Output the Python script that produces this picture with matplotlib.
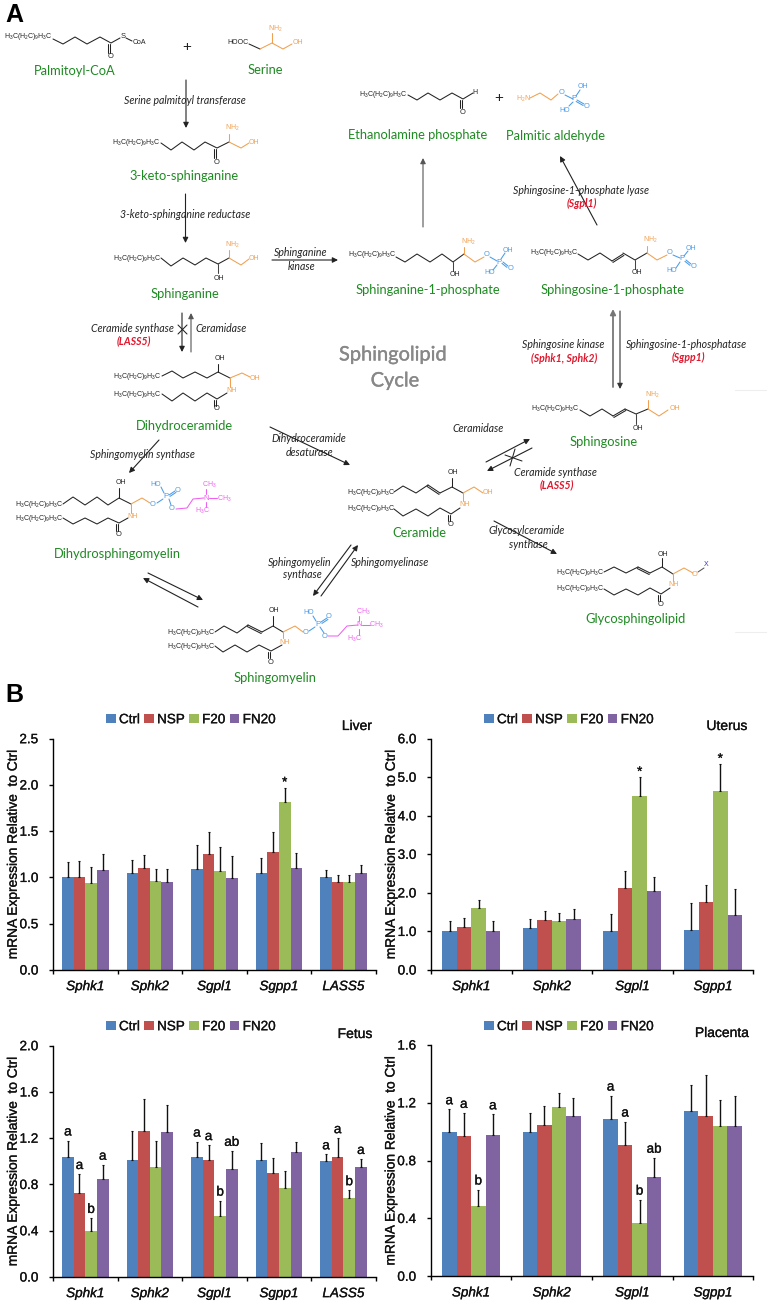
#!/usr/bin/env python3
"""Sphingolipid cycle diagram (A) and mRNA expression bar panels (B)."""

import matplotlib
matplotlib.use('Agg')
import matplotlib.pyplot as plt
import matplotlib.patheffects as pe
from matplotlib.text import Text
import numpy as np

plt.rcParams['font.family'] = ['Liberation Sans', 'DejaVu Sans']
plt.rcParams['mathtext.default'] = 'regular'

W, H = 767, 1304

# bar data: one row per gene, columns are Ctrl, NSP, F20, FN20
series = ['Ctrl', 'NSP', 'F20', 'FN20']
series_colors = ['#4F81BD', '#C0504D', '#9BBB59', '#8064A2']
genes_five = ['Sphk1', 'Sphk2', 'Sgpl1', 'Sgpp1', 'LASS5']
genes_four = ['Sphk1', 'Sphk2', 'Sgpl1', 'Sgpp1']

liver_vals = [[1.00, 1.01, 0.94, 1.08],
              [1.05, 1.10, 0.96, 0.95],
              [1.09, 1.25, 1.07, 0.99],
              [1.05, 1.27, 1.82, 1.10],
              [1.00, 0.95, 0.95, 1.05]]
liver_tops = [[1.17, 1.18, 1.11, 1.25],
              [1.19, 1.24, 1.09, 1.09],
              [1.35, 1.49, 1.33, 1.23],
              [1.21, 1.49, 1.97, 1.26],
              [1.08, 1.03, 1.03, 1.13]]
liver_marks = [(3, 2, '*')]

uterus_vals = [[1.00, 1.12, 1.62, 1.00],
               [1.09, 1.29, 1.27, 1.33],
               [1.00, 2.12, 4.52, 2.05],
               [1.03, 1.76, 4.64, 1.42]]
uterus_tops = [[1.27, 1.35, 1.82, 1.27],
               [1.32, 1.53, 1.48, 1.59],
               [1.45, 2.58, 5.00, 2.42],
               [1.73, 2.20, 5.34, 2.10]]
uterus_marks = [(2, 2, '*'), (3, 2, '*')]

fetus_vals = [[1.04, 0.73, 0.40, 0.85],
              [1.01, 1.26, 0.95, 1.25],
              [1.04, 1.01, 0.53, 0.93],
              [1.01, 0.90, 0.77, 1.08],
              [1.00, 1.04, 0.68, 0.95]]
fetus_tops = [[1.18, 0.89, 0.51, 0.97],
              [1.26, 1.54, 1.18, 1.49],
              [1.17, 1.14, 0.66, 1.09],
              [1.16, 1.03, 0.92, 1.17],
              [1.06, 1.20, 0.75, 1.02]]
fetus_marks = [(0, 0, 'a'), (0, 1, 'a'), (0, 2, 'b'), (0, 3, 'a'),
               (2, 0, 'a'), (2, 1, 'a'), (2, 2, 'b'), (2, 3, 'ab'),
               (4, 0, 'a'), (4, 1, 'a'), (4, 2, 'b'), (4, 3, 'a')]

placenta_vals = [[1.00, 0.97, 0.485, 0.98],
                 [1.00, 1.05, 1.17, 1.11],
                 [1.09, 0.91, 0.37, 0.69],
                 [1.14, 1.11, 1.04, 1.04]]
placenta_tops = [[1.155, 1.13, 0.60, 1.12],
                 [1.13, 1.18, 1.27, 1.23],
                 [1.25, 1.07, 0.53, 0.82],
                 [1.32, 1.39, 1.22, 1.25]]
placenta_marks = [(0, 0, 'a'), (0, 1, 'a'), (0, 2, 'b'), (0, 3, 'a'),
                  (2, 0, 'a'), (2, 1, 'a'), (2, 2, 'b'), (2, 3, 'ab')]

fig = plt.figure(figsize=(W / 100, H / 100), dpi=100, facecolor='white')

# whole-figure axes in pixel coordinates for the pathway drawing
dia = fig.add_axes([0, 0, 1, 1])
dia.set_xlim(0, W)
dia.set_ylim(H, 0)
dia.axis('off')

BLK = '#222222'
ORG = '#F0A050'
BLU = '#4A9BE8'
MAG = '#F060F0'
GRN = '#1E8A22'
RED = '#E0182D'
CHAIN = r'H$_3$C(H$_2$C)$_9$H$_3$C'
HEAVY = [pe.withStroke(linewidth=0.2, foreground='#111111')]


def chain(pts, c=BLK):
    xs, ys = zip(*pts)
    dia.plot(xs, ys, color=c, lw=0.75, solid_capstyle='round')


def dbl(p0, p1, c=BLK, gap=1.7):
    d = np.array(p1, float) - np.array(p0, float)
    n = np.array([-d[1], d[0]]) / np.hypot(*d) * gap
    chain([p0, p1], c)
    chain([tuple(np.array(p0) + n), tuple(np.array(p1) + n)], c)


def atom(x, y, s, c=BLK, size=5.0):
    dia.text(x, y, s, color=c, fontsize=size, ha='center', va='center')


def name(x, y, s):
    dia.text(x, y, s, color=GRN, fontsize=9.3, family='Lato', ha='center', va='center')


def enz(x, y, s, c=BLK, bold=False):
    dia.text(x, y, s, color=c, fontsize=7.6, family='Lato', style='italic',
             weight='bold' if bold else 'normal', ha='center', va='center')


def arrow(x0, y0, x1, y1, c=BLK, lw=0.8):
    dia.annotate('', xy=(x1, y1), xytext=(x0, y0),
                 arrowprops=dict(arrowstyle='-|>', color=c, lw=lw, mutation_scale=8,
                                 shrinkA=0, shrinkB=0))


def phosphate(px, py, labels):
    # P centre with its hydroxyl and oxygen neighbours
    atom(px, py, 'P', BLU, 5.6)
    for x, y, s in labels:
        atom(x, y, s, BLU, 5.0 if len(s) > 1 else 5.4)


dia.text(14, 15, 'A', fontsize=18, weight='bold', ha='center', va='center', color='black')
dia.text(14, 695, 'B', fontsize=18, weight='bold', ha='center', va='center', color='black')

# palmitoyl-CoA + serine
atom(28, 37, CHAIN)
chain([(53, 39), (63, 44), (75, 37), (87, 44), (100, 37), (111, 43), (120, 38)])
atom(123, 36, 'S', size=5.4)
chain([(126, 38), (132, 41)])
atom(139, 43, 'CoA')
dbl((110, 44), (110, 53))
atom(111, 57, 'O', size=5.4)
atom(187, 47, '+', size=11)
atom(238, 43, 'HOOC')
chain([(249, 44), (260, 49)])
chain([(260, 49), (272, 43), (283, 49), (292, 44)], ORG)
chain([(272, 43), (272, 33)], ORG)
atom(275, 29, r'NH$_2$', ORG)
atom(298, 43, 'OH', ORG)
name(75, 71, 'Palmitoyl-CoA')
name(265, 70, 'Serine')
arrow(186, 80, 186, 128)
enz(185, 101, 'Serine palmitoyl transferase')

# 3-keto-sphinganine
atom(136, 143, CHAIN)
chain([(161, 143), (171, 150), (182, 142), (194, 150), (205, 142), (217, 148), (229, 142)])
chain([(229, 142), (241, 148), (249, 143)], ORG)
chain([(229, 142), (229, 134)], ORG)
atom(232, 128, r'NH$_2$', ORG)
atom(254, 142, 'OH', ORG)
dbl((216, 149), (216, 158))
atom(217, 162, 'O', size=5.4)
name(184, 176, '3-keto-sphinganine')
arrow(185.5, 194, 185.5, 243)
enz(185, 215, '3-keto-sphinganine reductase')

# sphinganine
atom(137, 259, CHAIN)
chain([(161, 258), (171, 266), (183, 258), (195, 265), (206, 258), (218, 264), (229, 258)])
chain([(229, 258), (241, 265), (249, 259)], ORG)
chain([(229, 258), (229, 250)], ORG)
chain([(218, 264), (218, 273)], '#444444')
atom(219, 278, 'OH')
atom(232, 245, r'NH$_2$', ORG)
atom(254, 258, 'OH', ORG)
name(185, 294, 'Sphinganine')
arrow(272, 260, 338, 260)
enz(301, 253, 'Sphinganine')
enz(302, 266, 'kinase')
arrow(182, 313, 182, 352)
arrow(191, 352, 191, 313, c='#555555')
chain([(178, 325), (187, 334)])
chain([(187, 325), (178, 334)])
enz(132, 329, 'Ceramide synthase')
enz(134, 341, '(LASS5)', RED, True)
enz(221, 329, 'Ceramidase')

# aldehyde + phosphoethanolamine
atom(383, 94, CHAIN)
chain([(408, 95), (417, 100), (428, 93), (440, 100), (452, 93), (463, 99), (473, 93)])
atom(475, 92, 'H', size=5.0)
dbl((462, 100), (462, 108))
atom(463, 112, 'O', size=5.4)
atom(499, 98, '+', size=11)
atom(523, 99, r'H$_2$N', ORG)
chain([(530, 98), (540, 93), (551, 100), (558, 94)], ORG)
chain([(565, 95), (573, 99)], BLU)
chain([(576, 96), (580, 90)], BLU)
chain([(573, 102), (569, 106)], BLU)
dbl((577, 100), (584, 104), BLU)
phosphate(574, 99, [(583, 87, 'OH'), (565, 110, 'HO'), (587, 106, 'O'), (562, 93, 'O')])
name(418, 135, 'Ethanolamine phosphate')
name(555, 136, 'Palmitic aldehyde')
arrow(423, 227, 423, 158, c='#555555')
arrow(597, 225, 560, 156)
enz(581, 190, 'Sphingosine-1-phosphate lyase')
enz(582, 203, '(Sgpl1)', RED, True)

# sphinganine-1-phosphate
atom(372, 255, CHAIN)
chain([(396, 257), (405, 262), (417, 254), (430, 262), (442, 254), (453, 262), (464, 254)])
chain([(464, 254), (475, 262), (484, 257)], ORG)
chain([(464, 254), (464, 247)], ORG)
chain([(453, 262), (453, 271)], '#444444')
atom(455, 275, 'OH')
atom(468, 242, r'NH$_2$', ORG)
chain([(490, 257), (497, 261)], BLU)
chain([(501, 259), (505, 253)], BLU)
chain([(497, 265), (493, 270)], BLU)
dbl((503, 262), (508, 266), BLU)
phosphate(499, 262, [(508, 250, 'OH'), (490, 273, 'HO'), (511, 268, 'O'), (487, 255, 'O')])
name(428, 290, 'Sphinganine-1-phosphate')

# sphingosine-1-phosphate
atom(554, 253, CHAIN)
chain([(578, 254), (588, 260), (600, 253), (612, 261)])
dbl((612, 261), (623, 254))
chain([(623, 253), (635, 260), (647, 253)])
chain([(647, 253), (657, 260), (667, 255)], ORG)
chain([(647, 253), (647, 246)], ORG)
chain([(635, 260), (635, 269)], '#444444')
atom(637, 273, 'OH')
atom(650, 240, r'NH$_2$', ORG)
chain([(673, 255), (680, 258)], BLU)
chain([(684, 256), (688, 251)], BLU)
chain([(680, 262), (676, 268)], BLU)
dbl((686, 260), (691, 264), BLU)
phosphate(682, 259, [(691, 248, 'OH'), (672, 271, 'HO'), (694, 266, 'O'), (670, 253, 'O')])
name(613, 290, 'Sphingosine-1-phosphate')
arrow(613, 387, 613, 309, c='#777777', lw=1.3)
arrow(620, 311, 620, 389, c='#333333')
enz(563, 345, 'Sphingosine kinase')
enz(564, 358, '(Sphk1, Sphk2)', RED, True)
enz(687, 344, 'Sphingosine-1-phosphatase')
enz(688, 357, '(Sgpp1)', RED, True)

# centre title
dia.text(393, 355, 'Sphingolipid', color='#888888', fontsize=14.4, family='Lato',
         ha='center', va='center', path_effects=[pe.withStroke(linewidth=0.25, foreground='#888888')])
dia.text(395, 381, 'Cycle', color='#888888', fontsize=14.4, family='Lato',
         ha='center', va='center', path_effects=[pe.withStroke(linewidth=0.25, foreground='#888888')])

# sphingosine
atom(555, 409, CHAIN)
chain([(580, 410), (590, 416), (602, 409), (613, 416)])
dbl((613, 416), (625, 409))
chain([(625, 409), (636, 414), (648, 409)])
chain([(648, 409), (659, 416), (668, 410)], ORG)
chain([(648, 409), (648, 400)], ORG)
chain([(636, 414), (636, 424)], '#444444')
atom(638, 429, 'OH')
atom(652, 395, r'NH$_2$', ORG)
atom(675, 408, 'OH', ORG)
name(604, 442, 'Sphingosine')

# dihydroceramide
atom(137, 377, CHAIN)
atom(137, 394, CHAIN)
chain([(162, 376), (172, 371), (183, 378), (195, 372), (207, 378), (218, 372), (230, 378)])
chain([(230, 378), (242, 373), (250, 377)], ORG)
chain([(230, 378), (230, 387)], ORG)
chain([(218, 372), (218, 364)])
atom(220, 358, 'OH')
atom(255, 378, 'OH', ORG)
atom(232, 391, 'NH', ORG)
chain([(162, 394), (172, 401), (183, 393), (195, 401), (207, 393), (217, 399), (227, 393)])
dbl((216, 400), (216, 406))
atom(217, 409, 'O', size=5.4)
name(184, 426, 'Dihydroceramide')
arrow(159, 440, 129, 473)
enz(142, 455, 'Sphingomyelin synthase')
arrow(270, 427, 350, 465)
enz(309, 439, 'Dihydroceramide')
enz(310, 452, 'desaturase')

# dihydrosphingomyelin
atom(39, 504, CHAIN)
atom(39, 518, CHAIN)
chain([(63, 504), (73, 497), (85, 505), (97, 497), (108, 505), (119, 498), (131, 504)])
chain([(131, 504), (142, 498), (150, 503)], ORG)
chain([(131, 504), (131, 513)], ORG)
chain([(119, 498), (119, 488)])
atom(121, 483, 'OH')
atom(133, 517, 'NH', ORG)
chain([(63, 518), (73, 524), (85, 518), (97, 524), (108, 518), (119, 523), (128, 518)])
dbl((118, 524), (118, 531))
atom(119, 535, 'O', size=5.4)
chain([(157, 503), (163, 499)], BLU)
chain([(164, 493), (161, 487)], BLU)
dbl((169, 495), (175, 491), BLU)
chain([(169, 499), (171, 505)], BLU)
phosphate(166, 496, [(156, 485, 'HO'), (178, 491, 'O'), (153, 504, 'O'), (172, 509, 'O')])
chain([(176, 509), (187, 508), (193, 499), (204, 498)], MAG)
chain([(206, 494), (206, 489)], MAG)
chain([(209, 498), (217, 498)], MAG)
chain([(206, 502), (206, 507)], MAG)
atom(206, 498, 'N', MAG, 5.4)
atom(209, 485, r'CH$_3$', MAG)
atom(224, 499, r'CH$_3$', MAG)
atom(202, 511, r'H$_3$C', MAG)
name(117, 554, 'Dihydrosphingomyelin')
arrow(148, 573, 203, 600)
arrow(198, 607, 143, 578)

# ceramide
atom(371, 492, CHAIN)
atom(371, 509, CHAIN)
chain([(394, 492), (403, 486), (416, 493), (428, 485)])
dbl((428, 485), (440, 493))
chain([(440, 493), (452, 487), (463, 493)])
chain([(463, 493), (474, 487), (483, 493)], ORG)
chain([(463, 493), (463, 501)], ORG)
chain([(452, 487), (452, 478)])
atom(453, 473, 'OH')
atom(488, 493, 'OH', ORG)
atom(465, 505, 'NH', ORG)
chain([(394, 509), (403, 516), (416, 509), (428, 516), (440, 508), (451, 514), (460, 508)])
dbl((450, 515), (450, 521))
atom(451, 524, 'O', size=5.4)
name(419, 533, 'Ceramide')
arrow(486, 462, 530, 439)
arrow(532, 448, 487, 471)
chain([(505, 455), (522, 461)])
chain([(515, 449), (510, 466)])
enz(478, 429, 'Ceramidase')
enz(555, 473, 'Ceramide synthase')
enz(557, 485, '(LASS5)', RED, True)
arrow(494, 521, 557, 554)
enz(527, 531, 'Glycosylceramide')
enz(528, 544, 'synthase')

# glycosphingolipid
atom(580, 572, CHAIN)
atom(580, 589, CHAIN)
chain([(604, 572), (614, 567), (626, 573), (638, 567)])
dbl((638, 567), (650, 573))
chain([(650, 573), (662, 567), (673, 574)])
chain([(673, 574), (684, 568), (693, 573)], ORG)
chain([(673, 574), (673, 581)], ORG)
chain([(662, 567), (662, 558)])
atom(663, 554, 'OH')
atom(674, 585, 'NH', ORG)
atom(695, 574, 'O', ORG, 5.4)
chain([(698, 572), (704, 568)], '#555555')
atom(706, 565, 'X', '#3333DD')
chain([(604, 589), (614, 595), (626, 589), (638, 595), (650, 588), (661, 594), (670, 588)])
dbl((660, 595), (660, 601))
atom(661, 604, 'O', size=5.4)
name(635, 619, 'Glycosphingolipid')

# sphingomyelin
atom(191, 632, CHAIN)
atom(191, 646, CHAIN)
chain([(215, 632), (224, 626), (237, 633), (248, 625)])
dbl((248, 625), (262, 632))
chain([(262, 632), (273, 626), (283, 632)])
chain([(283, 632), (295, 626), (303, 632)], ORG)
chain([(283, 632), (283, 638)], ORG)
chain([(273, 626), (273, 616)])
atom(274, 611, 'OH')
atom(285, 642, 'NH', ORG)
chain([(215, 646), (223, 652), (235, 645), (247, 652), (259, 645), (271, 651), (282, 645)])
dbl((270, 652), (270, 658))
atom(271, 662, 'O', size=5.4)
chain([(309, 631), (315, 627)], BLU)
chain([(316, 621), (313, 616)], BLU)
dbl((321, 622), (327, 618), BLU)
chain([(320, 627), (324, 633)], BLU)
phosphate(318, 624, [(309, 613, 'HO'), (329, 617, 'O'), (306, 632, 'O'), (325, 636, 'O')])
chain([(328, 636), (338, 636), (347, 626), (358, 625)], MAG)
chain([(359, 621), (359, 616)], MAG)
chain([(362, 625), (370, 625)], MAG)
chain([(359, 629), (359, 635)], MAG)
atom(359, 625, 'N', MAG, 5.4)
atom(363, 612, r'CH$_3$', MAG)
atom(376, 625, r'CH$_3$', MAG)
atom(354, 639, r'H$_3$C', MAG)
name(275, 678, 'Sphingomyelin')
arrow(351, 545, 313, 596)
arrow(321, 596, 358, 545)
enz(300, 562, 'Sphingomyelin')
enz(302, 575, 'synthase')
enz(390, 563, 'Sphingomyelinase')

# faint scan artefacts on the right edge
chain([(735, 390), (767, 390)], '#EEEEEE')
chain([(735, 632), (767, 632)], '#EEEEEE')


def panel(rect, vals, tops, genes, ymax, yticks, fmt, title, title_xy, legend_xy, marks):
    left, bottom, right, top = rect
    ax = fig.add_axes([left / W, 1 - bottom / H, (right - left) / W, (bottom - top) / H])
    ax.patch.set_alpha(0)
    vals = np.array(vals)
    errs = np.array(tops) - vals
    x = np.arange(len(genes))
    width = 0.18
    for j, lab in enumerate(series):
        pos = x + (j - 1.5) * width
        ax.bar(pos, vals[:, j], width, color=series_colors[j], label=lab)
        ax.errorbar(pos, vals[:, j], yerr=[np.zeros(len(x)), errs[:, j]], fmt='none',
                    ecolor='#111111', elinewidth=1.0, capsize=0.8, capthick=0.8)
    for g, j, s in marks:
        ax.annotate(s, (x[g] + (j - 1.5) * width, tops[g][j]), xytext=(0, 1.5 if s != '*' else -1),
                    textcoords='offset points', ha='center', va='bottom', fontsize=9.7,
                    color='#111111')
    ax.set_xlim(-0.5, len(genes) - 0.5)
    ax.set_ylim(0, ymax)
    ax.set_yticks(yticks)
    ax.set_yticklabels([fmt % t for t in yticks], fontsize=9.7, color='#111111')
    ax.set_xticks(np.arange(len(genes) + 1) - 0.5)
    ax.set_xticklabels([])
    ax.set_xticks(x, minor=True)
    ax.set_xticklabels(genes, minor=True, fontsize=9.7, style='italic', color='#111111')
    ax.tick_params(axis='x', which='minor', length=0, pad=8)
    ax.tick_params(axis='both', which='major', length=3, width=1)
    ax.tick_params(axis='y', pad=7.5)
    ax.spines[['top', 'right']].set_visible(False)
    ax.spines[['left', 'bottom']].set_linewidth(1)
    ax.set_ylabel('mRNA Expression Relative  to Ctrl', fontsize=9.9, color='#111111')
    ax.yaxis.set_label_coords(-0.103, 0.5)
    ax.legend(loc='center', bbox_to_anchor=(legend_xy[0] / W, 1 - legend_xy[1] / H),
              bbox_transform=fig.transFigure, ncol=4, frameon=False, fontsize=9.7,
              handlelength=0.7, handleheight=0.7, handletextpad=0.25, columnspacing=0.33,
              labelcolor='#111111', borderpad=0)
    # the scan makes the panel text look heavier than a regular weight
    for t in ax.findobj(Text):
        t.set_path_effects(HEAVY)
    dia.text(title_xy[0], title_xy[1], title, fontsize=10, color='#111111', ha='center',
             va='center', path_effects=HEAVY)


panel((53, 970, 375.7, 738.7), liver_vals, liver_tops, genes_five, 2.5,
      [0, 0.5, 1.0, 1.5, 2.0, 2.5], '%.1f', 'Liver', (357, 726), (191, 720), liver_marks)
panel((431, 970, 753.3, 738.7), uterus_vals, uterus_tops, genes_four, 6.0,
      [0, 1, 2, 3, 4, 5, 6], '%.1f', 'Uterus', (727, 726), (569, 720), uterus_marks)
panel((53, 1277, 375.7, 1045.7), fetus_vals, fetus_tops, genes_five, 2.0,
      [0, 0.4, 0.8, 1.2, 1.6, 2.0], '%.1f', 'Fetus', (355, 1034), (191, 1027), fetus_marks)
panel((430.7, 1276.3, 753.3, 1045), placenta_vals, placenta_tops, genes_four, 1.6,
      [0, 0.4, 0.8, 1.2, 1.6], '%.1f', 'Placenta', (722, 1033), (569, 1027), placenta_marks)

fig.savefig('out.png', dpi=100)
